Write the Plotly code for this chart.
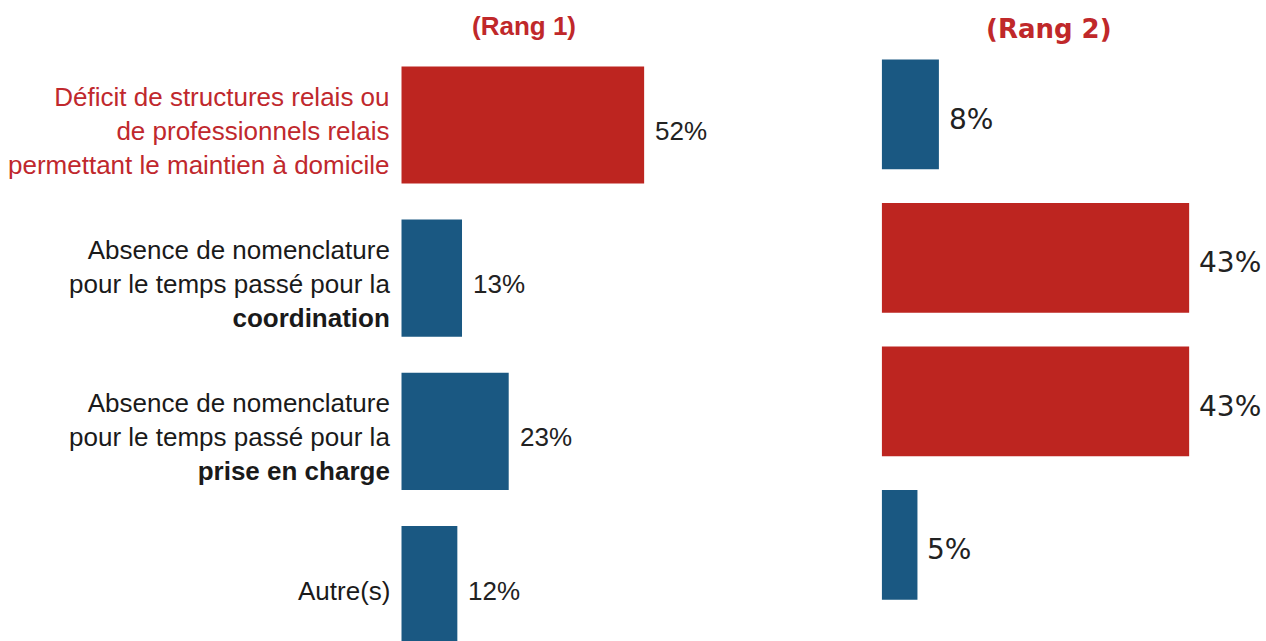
import plotly.graph_objects as go

# ---- data ----
categories = [
    "Déficit de structures relais ou<br>de professionnels relais<br>permettant le maintien à domicile",
    "Absence de nomenclature<br>pour le temps passé pour la<br><b>coordination</b>",
    "Absence de nomenclature<br>pour le temps passé pour la<br><b>prise en charge</b>",
    "Autre(s)",
]
rang1_values = [52, 13, 23, 12]
rang2_values = [8, 43, 43, 5]
rang1_colors = ["#BD2520", "#1A5882", "#1A5882", "#1A5882"]
rang2_colors = ["#1A5882", "#BD2520", "#BD2520", "#1A5882"]
label_colors = ["#C0282D", "#1A1A1A", "#1A1A1A", "#1A1A1A"]
panel_titles = ["(Rang 1)", "(Rang 2)"]

W, H = 1266, 641
RED_T = "#C0282A"


def fx(p):
    return p / W


def fy(p):
    return 1 - p / H


fig = go.Figure()
ids = list(range(len(categories)))

fig.add_trace(go.Bar(x=rang1_values, y=ids, orientation="h",
                     marker=dict(color=rang1_colors, line=dict(width=0)),
                     xaxis="x", yaxis="y", hoverinfo="skip"))
fig.add_trace(go.Bar(x=rang2_values, y=ids, orientation="h",
                     marker=dict(color=rang2_colors, line=dict(width=0)),
                     xaxis="x2", yaxis="y2", hoverinfo="skip"))

annotations = []
for i, (cat, v1, v2, lc) in enumerate(zip(categories, rang1_values, rang2_values, label_colors)):
    annotations.append(dict(x=0, y=i, xref="x", yref="y", text=cat, showarrow=False,
                            xanchor="right", yanchor="middle", align="right",
                            xshift=-9, yshift=-6,
                            font=dict(family="Liberation Sans, Arial", size=26, color=lc)))
    annotations.append(dict(x=v1, y=i, xref="x", yref="y", text=f"{v1}%", showarrow=False,
                            xanchor="left", yanchor="middle", xshift=9, yshift=-6,
                            font=dict(family="Liberation Sans, Arial", size=26, color="#222222")))
    annotations.append(dict(x=v2, y=i, xref="x2", yref="y2", text=f"{v2}%", showarrow=False,
                            xanchor="left", yanchor="middle", xshift=8, yshift=-5,
                            font=dict(family="DejaVu Sans", size=28, color="#222222")))

annotations.append(dict(x=fx(524), y=fy(26), xref="paper", yref="paper",
                        text=f"<b>{panel_titles[0]}</b>", showarrow=False,
                        xanchor="center", yanchor="middle",
                        font=dict(family="Liberation Sans, Arial", size=26, color=RED_T)))
annotations.append(dict(x=fx(1049), y=fy(29), xref="paper", yref="paper",
                        text=f"<b>{panel_titles[1]}</b>", showarrow=False,
                        xanchor="center", yanchor="middle",
                        font=dict(family="DejaVu Sans", size=26, color=RED_T)))

# pixel geometry
x1_start, px1 = 401.3, 4.67
x2_start, px2 = 881.7, 7.15
r1, r2 = 60, 50
c1_0, s1 = 125.0, 153.2
c2_0, s2 = 114.3, 143.5

fig.update_layout(
    width=W, height=H,
    margin=dict(l=0, r=0, t=0, b=0),
    paper_bgcolor="white", plot_bgcolor="white",
    showlegend=False, bargap=0.235,
    xaxis=dict(domain=[fx(x1_start), fx(x1_start + r1 * px1)], range=[0, r1],
               visible=False, fixedrange=True),
    yaxis=dict(domain=[0, 1], range=[(H - c1_0) / s1, -c1_0 / s1],
               visible=False, fixedrange=True),
    xaxis2=dict(domain=[fx(x2_start), min(1.0, fx(x2_start + r2 * px2))], range=[0, r2],
                visible=False, fixedrange=True, anchor="y2"),
    yaxis2=dict(domain=[0, 1], range=[(H - c2_0) / s2, -c2_0 / s2],
                visible=False, fixedrange=True, anchor="x2"),
    annotations=annotations,
)

fig.write_html(
    "out.html",
    config={"displayModeBar": False},
    post_script="document.body.style.margin='0';document.body.style.overflow='hidden';",
)
